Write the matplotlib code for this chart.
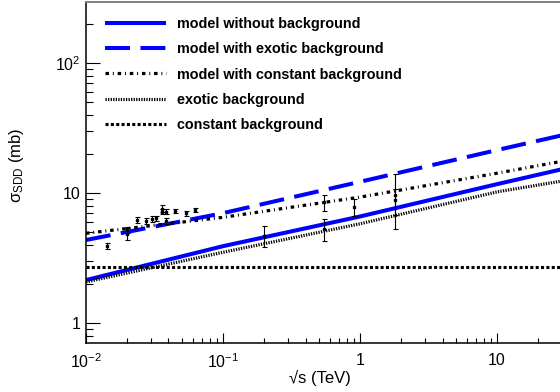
import numpy as np
import matplotlib
matplotlib.use("Agg")
import matplotlib.pyplot as plt
from matplotlib.ticker import FuncFormatter, NullFormatter, LogLocator

plt.rcParams['font.family'] = ['Liberation Sans', 'DejaVu Sans']
plt.rcParams['mathtext.fontset'] = 'custom'
plt.rcParams['mathtext.rm'] = 'Liberation Sans'
plt.rcParams['mathtext.it'] = 'Liberation Sans:italic'
plt.rcParams['mathtext.bf'] = 'Liberation Sans:bold'

# model curves, sqrt(s) in TeV vs sigma_SDD in mb
energy = [0.01, 0.1, 1.0, 10.0, 30.3]
model_nobg = [2.14, 3.9, 6.6, 11.7, 15.3]
model_exotic = [4.35, 7.0, 12.2, 21.4, 27.9]
model_const = [4.9, 6.5, 9.3, 14.2, 17.6]
exotic_bg = [2.07, 3.5, 5.8, 10.2, 12.4]
const_bg = [2.7, 2.7, 2.7, 2.7, 2.7]

# measurements
data_e = [0.0142, 0.0200, 0.0200, 0.0234, 0.0273, 0.0305, 0.0324, 0.0357, 0.0357,
          0.0384, 0.0384, 0.0449, 0.054, 0.0625,
          0.2, 0.546, 0.546, 0.9, 1.8, 1.8]
data_sig = [3.93, 4.85, 5.2, 6.2, 6.1, 6.3, 6.4, 7.6, 7.2,
            7.2, 6.1, 7.3, 7.0, 7.4,
            4.7, 5.3, 8.5, 7.8, 9.6, 8.8]
data_err = [0.2, 0.5, 0.3, 0.35, 0.3, 0.3, 0.3, 0.45, 0.35,
            0.35, 0.3, 0.3, 0.3, 0.3,
            0.85, 1.05, 1.2, 1.2, 4.3, 2.0]

fig = plt.figure(figsize=(5.6, 3.92), dpi=100)
ax = fig.add_axes([86/560., 49/392., 477/560., 341/392.])

l1, = ax.plot(energy, model_nobg, color='#0000ff', lw=2.9, solid_capstyle='butt')
l2, = ax.plot(energy, model_exotic, color='#0000ff', lw=2.9, dashes=(6.2, 2.6))
l3, = ax.plot(energy, model_const, color='black', lw=2.3, dashes=(1.1, 1.2, 0.3, 1.2))
l4, = ax.plot(energy, exotic_bg, color='black', lw=2.3, dashes=(0.4, 0.4))
l5, = ax.plot(energy, const_bg, color='black', lw=2.2, dashes=(1.0, 0.75))

ax.errorbar(data_e, data_sig, yerr=data_err, fmt='s', color='black', ms=1.6,
            elinewidth=0.8, capsize=1.8, capthick=0.8, zorder=5)

ax.set_xscale('log')
ax.set_yscale('log')
ax.set_xlim(0.01, 30.3)
ax.set_ylim(0.702, 294.6)

def fmt(v, pos):
    if abs(v - 1) < 1e-9:
        return '1'
    if abs(v - 10) < 1e-9:
        return '10'
    return r'$10^{%d}$' % int(round(np.log10(v)))

for axis in (ax.xaxis, ax.yaxis):
    axis.set_major_locator(LogLocator(base=10))
    axis.set_minor_locator(LogLocator(base=10, subs=np.arange(2, 10)))
    axis.set_major_formatter(FuncFormatter(fmt))
    axis.set_minor_formatter(NullFormatter())

ax.tick_params(axis='x', which='major', direction='in', length=7.2, width=0.8,
               labelsize=11.5, pad=7)
ax.tick_params(axis='x', which='minor', direction='in', length=3.6, width=0.8)
ax.tick_params(axis='y', which='major', direction='in', length=10, width=0.8,
               labelsize=11.5, pad=4)
ax.tick_params(axis='y', which='minor', direction='in', length=5, width=0.8)

for side in ('left', 'bottom'):
    ax.spines[side].set_linewidth(1.1)
ax.spines['top'].set_color('#808080')
ax.spines['top'].set_linewidth(1.4)
ax.spines['right'].set_visible(False)

ax.set_xlabel('√s (TeV)', fontsize=12)
ax.xaxis.set_label_coords(0.49, -0.08)
ax.set_ylabel(r'σ$_{\mathrm{SDD}}$ (mb)', fontsize=12)
ax.yaxis.set_label_coords(-0.125, 0.52)

leg = ax.legend([l1, l2, l3, l4, l5],
                ['model without background', 'model with exotic background',
                 'model with constant background', 'exotic background',
                 'constant background'],
                loc='upper left', bbox_to_anchor=(105/560., 1 - 17/392.),
                bbox_transform=fig.transFigure, frameon=False,
                prop={'weight': 'bold', 'size': 10.4},
                handlelength=4.2, handletextpad=0.8, labelspacing=0.78,
                borderpad=0, borderaxespad=0)

fig.savefig('out.png', dpi=100)
